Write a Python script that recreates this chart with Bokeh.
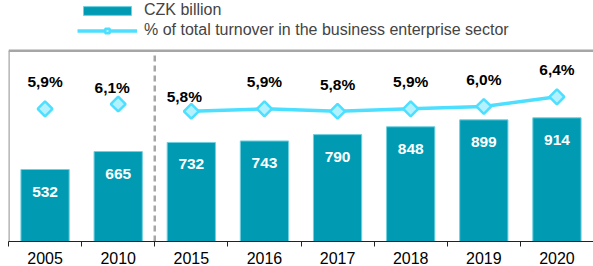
import math
from bokeh.plotting import figure
from bokeh.models import (Range1d, LinearAxis, FixedTicker, Span, Legend, LegendItem,
                          ColumnDataSource)
from bokeh.embed import file_html
from bokeh.resources import INLINE
from bokeh.core.properties import value

# ---- data ----
years = ["2005", "2010", "2015", "2016", "2017", "2018", "2019", "2020"]
czk_billion = [532, 665, 732, 743, 790, 848, 899, 914]
pct_turnover = [5.9, 6.1, 5.8, 5.9, 5.8, 5.9, 6.0, 6.4]
pct_labels = ["5,9%", "6,1%", "5,8%", "5,9%", "5,8%", "5,9%", "6,0%", "6,4%"]
series_names = ["CZK billion", "% of total turnover in the business enterprise sector"]
line_start_year = "2015"

# ---- styling ----
FONT = "Liberation Sans"
BAR = "#009bb3"
BAR_EDGE = "#6fd0e0"
LINE = "#4ddfff"
MARK_FILL = "#b3f1ff"
BORDER = "#a6a6a6"
label_nudge = {"2010": (-6, 10), "2015": (-7, 12)}  # (dx, dy) px for crowded labels

n = len(years)
xc = [i + 0.5 for i in range(n)]
i0 = years.index(line_start_year)
FRAME_H, BOX_H = 240, 190
Y_BOX = 1410                              # top of the boxed plot area
Y_END = Y_BOX * FRAME_H / BOX_H           # extra room above the box for the legend
P_LO, P_HI = 0.38, 8.32
P_END = P_LO + (P_HI - P_LO) * FRAME_H / BOX_H

p = figure(width=593, height=266, x_range=Range1d(0, n), y_range=Range1d(0, Y_END),
           output_backend="svg", toolbar_location=None, min_border=0,
           min_border_left=8, x_axis_type=None, y_axis_type=None,
           outline_line_color=None)
p.background_fill_color = "white"
p.border_fill_color = "white"
p.extra_y_ranges = {"pct": Range1d(P_LO, P_END)}

bar_src = ColumnDataSource(dict(x=xc, v=czk_billion, t=[str(v) for v in czk_billion]))
bars = p.vbar(x="x", top="v", width=0.66, source=bar_src, fill_color=BAR,
              line_color=BAR_EDGE, line_width=1)
p.text(x="x", y="v", text="t", source=bar_src, y_offset=22, text_align="center",
       text_baseline="middle", text_color="white", text_font=value(FONT),
       text_font_style="bold", text_font_size="15.5px")

# box: top border, left border, dashed separator
p.add_layout(Span(location=Y_BOX, dimension="width", line_color=BORDER, line_width=2.5))
p.segment(x0=[0], y0=[0], x1=[0], y1=[Y_BOX], line_color=BORDER, line_width=2.5)
p.segment(x0=[i0], y0=[0], x1=[i0], y1=[Y_BOX], line_color=BORDER,
          line_width=2.5, line_dash="6 4")

line_r = p.line(xc[i0:], pct_turnover[i0:], y_range_name="pct", line_color=LINE,
                line_width=3.5)
mark_r = p.scatter(xc, pct_turnover, y_range_name="pct", marker="square",
                   angle=math.pi / 4, size=10.5, fill_color=MARK_FILL,
                   line_color=LINE, line_width=2.5)

dx = [label_nudge.get(y, (0, 0))[0] for y in years]
dy = [-27 + label_nudge.get(y, (0, 0))[1] for y in years]
pct_src = ColumnDataSource(dict(x=xc, y=pct_turnover, t=pct_labels, dx=dx, dy=dy))
p.text(x="x", y="y", text="t", source=pct_src, y_range_name="pct",
       x_offset="dx", y_offset="dy", text_align="center", text_baseline="middle",
       text_color="black", text_font=value(FONT), text_font_style="bold",
       text_font_size="15.5px")

# bottom axis: labels at category centres, ticks at category boundaries
xaxis = LinearAxis(ticker=FixedTicker(ticks=xc, minor_ticks=list(range(n + 1))),
                   major_label_overrides={x: y for x, y in zip(xc, years)},
                   major_tick_line_color=None, major_tick_out=0, major_tick_in=0,
                   minor_tick_out=5, minor_tick_in=0, minor_tick_line_color="#222222",
                   axis_line_color="#222222", axis_line_width=1,
                   major_label_standoff=5, major_label_text_font=FONT,
                   major_label_text_font_size="16px", major_label_text_color="black")
p.add_layout(xaxis, "below")

legend = Legend(items=[LegendItem(label=series_names[0], renderers=[bars]),
                       LegendItem(label=series_names[1], renderers=[line_r, mark_r])],
                location=(69, 202), orientation="vertical", margin=0, padding=0,
                spacing=2, glyph_width=60, glyph_height=11, label_height=14,
                label_standoff=7, label_text_font=FONT, label_text_font_size="16px",
                border_line_color=None, background_fill_alpha=0)
p.add_layout(legend)

open("out.html", "w").write(file_html(p, INLINE))
